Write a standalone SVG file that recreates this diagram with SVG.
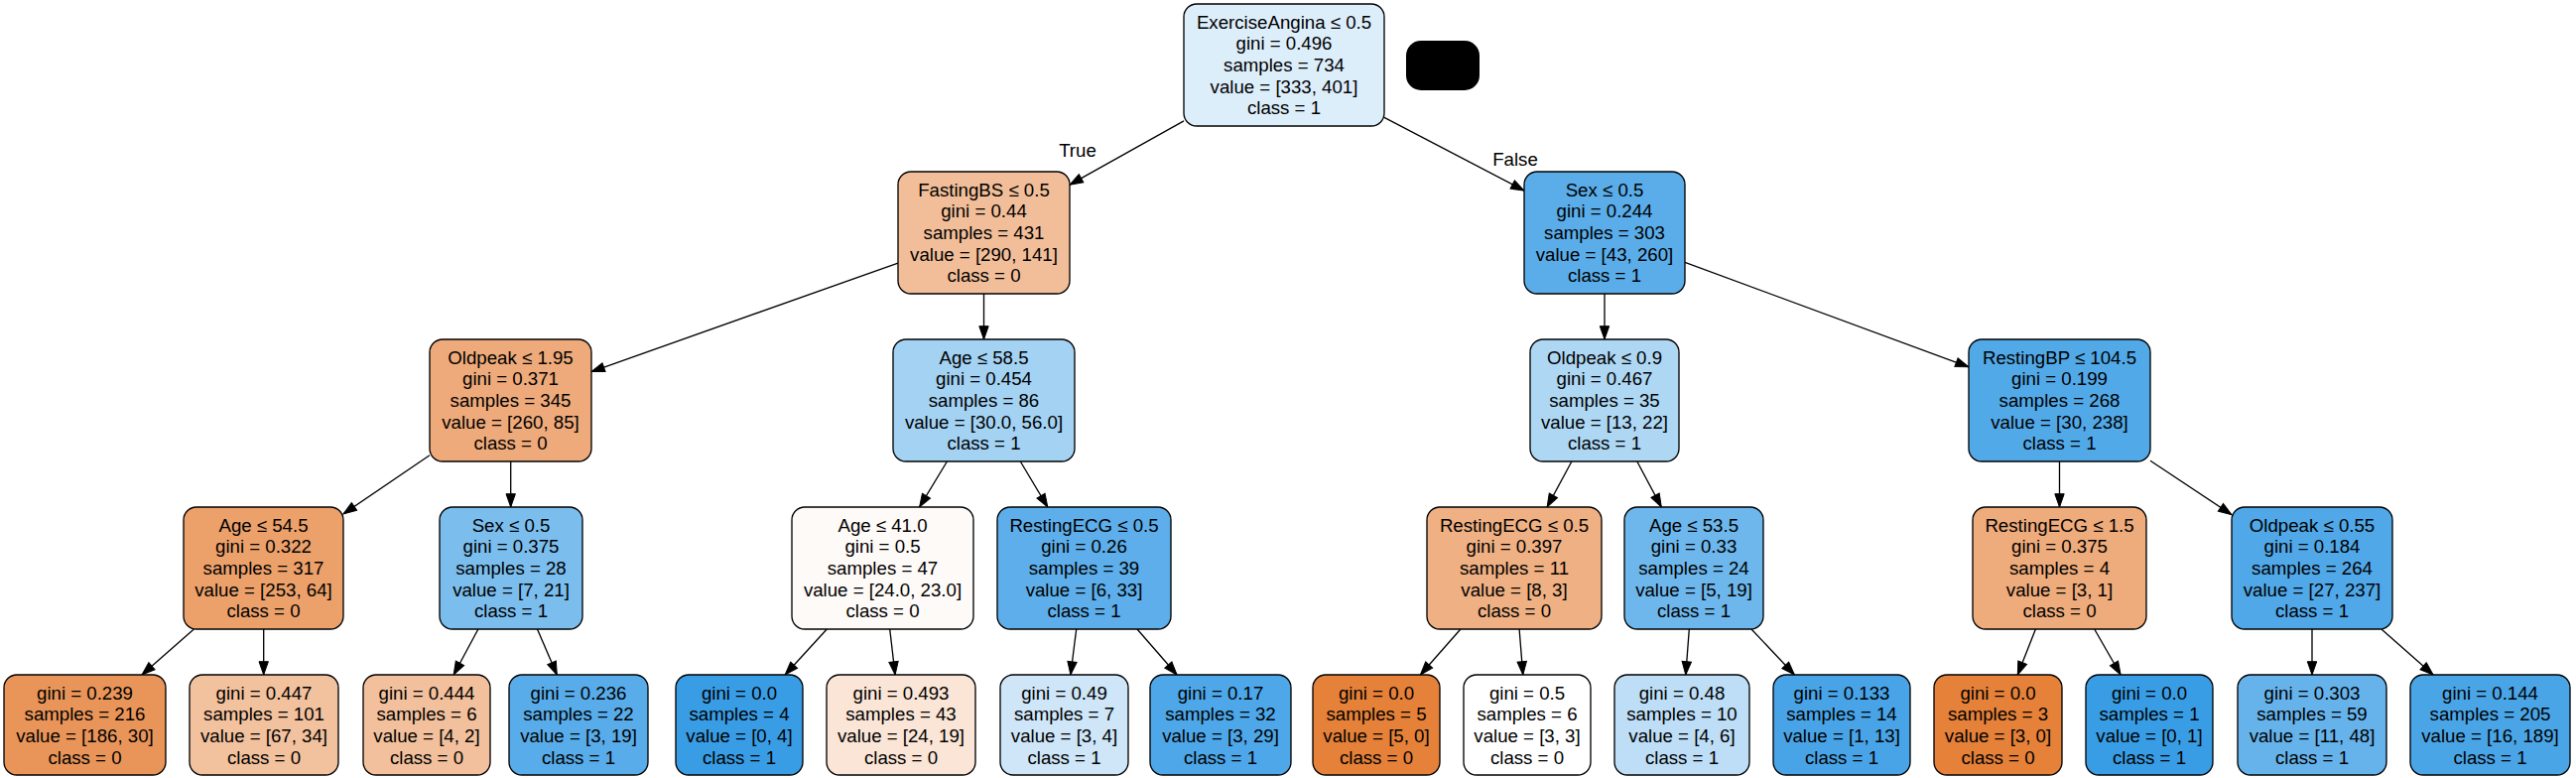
<svg xmlns="http://www.w3.org/2000/svg" width="2596" height="784" viewBox="0 0 2596 784">
<style>
.n{stroke:#000;stroke-width:1.33}
.t{font-family:"Liberation Sans",Arial,sans-serif;font-size:18.67px;fill:#000;text-anchor:middle}
.e{stroke:#000;stroke-width:1.33;fill:none;marker-end:url(#ah)}
</style>
<defs>
<marker id="ah" markerUnits="userSpaceOnUse" markerWidth="16" markerHeight="12" viewBox="0 -6 14 12" refX="13.3" refY="0" orient="auto">
<path d="M0,-4.7 L13.3,0 L0,4.7 z" fill="#000" stroke="#000" stroke-width="1"/>
</marker>
</defs>
<rect width="2596" height="784" fill="#fff"/>
<g id="edges">
<line class="e" x1="1193" y1="121.9" x2="1078" y2="186.2"/>
<line class="e" x1="1395" y1="118.3" x2="1536" y2="192.1"/>
<line class="e" x1="905" y1="265.1" x2="596" y2="374.6"/>
<line class="e" x1="991.5" y1="296" x2="991.5" y2="342"/>
<line class="e" x1="1617" y1="296" x2="1617" y2="342"/>
<line class="e" x1="1698" y1="264.4" x2="1984" y2="369.8"/>
<line class="e" x1="433" y1="458.8" x2="346" y2="517.9"/>
<line class="e" x1="514.7" y1="465" x2="514.7" y2="511"/>
<line class="e" x1="954.4" y1="465" x2="926.6" y2="511"/>
<line class="e" x1="1028.3" y1="465" x2="1055.8" y2="511"/>
<line class="e" x1="1583.9" y1="465" x2="1559.1" y2="511"/>
<line class="e" x1="1649.8" y1="465" x2="1674.3" y2="511"/>
<line class="e" x1="2075.5" y1="465" x2="2075.5" y2="511"/>
<line class="e" x1="2167" y1="464.3" x2="2249" y2="518.7"/>
<line class="e" x1="195.4" y1="634" x2="143" y2="680"/>
<line class="e" x1="265.7" y1="634" x2="265.7" y2="680"/>
<line class="e" x1="481.9" y1="634" x2="457.2" y2="680"/>
<line class="e" x1="541.5" y1="634" x2="561.3" y2="680"/>
<line class="e" x1="833.3" y1="634" x2="791.2" y2="680"/>
<line class="e" x1="896.7" y1="634" x2="902.1" y2="680"/>
<line class="e" x1="1084.7" y1="634" x2="1078.9" y2="680"/>
<line class="e" x1="1146" y1="634" x2="1186.1" y2="680"/>
<line class="e" x1="1471.9" y1="634" x2="1431.4" y2="680"/>
<line class="e" x1="1531.1" y1="634" x2="1534.8" y2="680"/>
<line class="e" x1="1702.3" y1="634" x2="1698.8" y2="680"/>
<line class="e" x1="1765" y1="634" x2="1808.4" y2="680"/>
<line class="e" x1="2051.4" y1="634" x2="2033.3" y2="680"/>
<line class="e" x1="2110.7" y1="634" x2="2137.1" y2="680"/>
<line class="e" x1="2330" y1="634" x2="2330" y2="680"/>
<line class="e" x1="2399.9" y1="634" x2="2452.1" y2="680"/>
<text class="t" x="1086" y="158">True</text>
<text class="t" x="1527" y="166.5">False</text>
</g>
<g id="redaction"><rect x="1417" y="41" width="74" height="50" rx="15" fill="#000"/></g>
<g id="n0"><rect class="n" x="1193" y="4" width="202" height="123" rx="13" fill="#ddeefb"/>
<text class="t" x="1294" y="28.6"><tspan x="1294">ExerciseAngina ≤ 0.5</tspan><tspan x="1294" dy="21.7">gini = 0.496</tspan><tspan x="1294" dy="21.7">samples = 734</tspan><tspan x="1294" dy="21.7">value = [333, 401]</tspan><tspan x="1294" dy="21.7">class = 1</tspan></text></g>
<g id="n1"><rect class="n" x="905" y="173" width="173" height="123" rx="13" fill="#f2be99"/>
<text class="t" y="197.6"><tspan x="991.5">FastingBS ≤ 0.5</tspan><tspan x="991.5" dy="21.7">gini = 0.44</tspan><tspan x="991.5" dy="21.7">samples = 431</tspan><tspan x="991.5" dy="21.7">value = [290, 141]</tspan><tspan x="991.5" dy="21.7">class = 0</tspan></text></g>
<g id="n2"><rect class="n" x="1536" y="173" width="162" height="123" rx="13" fill="#5aade9"/>
<text class="t" y="197.6"><tspan x="1617">Sex ≤ 0.5</tspan><tspan x="1617" dy="21.7">gini = 0.244</tspan><tspan x="1617" dy="21.7">samples = 303</tspan><tspan x="1617" dy="21.7">value = [43, 260]</tspan><tspan x="1617" dy="21.7">class = 1</tspan></text></g>
<g id="n3"><rect class="n" x="433" y="342" width="163" height="123" rx="13" fill="#eeaa7a"/>
<text class="t" y="366.6"><tspan x="514.5">Oldpeak ≤ 1.95</tspan><tspan x="514.5" dy="21.7">gini = 0.371</tspan><tspan x="514.5" dy="21.7">samples = 345</tspan><tspan x="514.5" dy="21.7">value = [260, 85]</tspan><tspan x="514.5" dy="21.7">class = 0</tspan></text></g>
<g id="n4"><rect class="n" x="900" y="342" width="183" height="123" rx="13" fill="#a3d2f3"/>
<text class="t" y="366.6"><tspan x="991.5">Age ≤ 58.5</tspan><tspan x="991.5" dy="21.7">gini = 0.454</tspan><tspan x="991.5" dy="21.7">samples = 86</tspan><tspan x="991.5" dy="21.7">value = [30.0, 56.0]</tspan><tspan x="991.5" dy="21.7">class = 1</tspan></text></g>
<g id="n5"><rect class="n" x="1542" y="342" width="150" height="123" rx="13" fill="#aed7f4"/>
<text class="t" y="366.6"><tspan x="1617">Oldpeak ≤ 0.9</tspan><tspan x="1617" dy="21.7">gini = 0.467</tspan><tspan x="1617" dy="21.7">samples = 35</tspan><tspan x="1617" dy="21.7">value = [13, 22]</tspan><tspan x="1617" dy="21.7">class = 1</tspan></text></g>
<g id="n6"><rect class="n" x="1984" y="342" width="183" height="123" rx="13" fill="#52a9e8"/>
<text class="t" y="366.6"><tspan x="2075.5">RestingBP ≤ 104.5</tspan><tspan x="2075.5" dy="21.7">gini = 0.199</tspan><tspan x="2075.5" dy="21.7">samples = 268</tspan><tspan x="2075.5" dy="21.7">value = [30, 238]</tspan><tspan x="2075.5" dy="21.7">class = 1</tspan></text></g>
<g id="n7"><rect class="n" x="185" y="511" width="161" height="123" rx="13" fill="#eca16b"/>
<text class="t" y="535.6"><tspan x="265.5">Age ≤ 54.5</tspan><tspan x="265.5" dy="21.7">gini = 0.322</tspan><tspan x="265.5" dy="21.7">samples = 317</tspan><tspan x="265.5" dy="21.7">value = [253, 64]</tspan><tspan x="265.5" dy="21.7">class = 0</tspan></text></g>
<g id="n8"><rect class="n" x="443" y="511" width="144" height="123" rx="13" fill="#7bbeee"/>
<text class="t" y="535.6"><tspan x="515">Sex ≤ 0.5</tspan><tspan x="515" dy="21.7">gini = 0.375</tspan><tspan x="515" dy="21.7">samples = 28</tspan><tspan x="515" dy="21.7">value = [7, 21]</tspan><tspan x="515" dy="21.7">class = 1</tspan></text></g>
<g id="n9"><rect class="n" x="798" y="511" width="183" height="123" rx="13" fill="#fefaf7"/>
<text class="t" y="535.6"><tspan x="889.5">Age ≤ 41.0</tspan><tspan x="889.5" dy="21.7">gini = 0.5</tspan><tspan x="889.5" dy="21.7">samples = 47</tspan><tspan x="889.5" dy="21.7">value = [24.0, 23.0]</tspan><tspan x="889.5" dy="21.7">class = 0</tspan></text></g>
<g id="n10"><rect class="n" x="1005" y="511" width="175" height="123" rx="13" fill="#5daeea"/>
<text class="t" y="535.6"><tspan x="1092.5">RestingECG ≤ 0.5</tspan><tspan x="1092.5" dy="21.7">gini = 0.26</tspan><tspan x="1092.5" dy="21.7">samples = 39</tspan><tspan x="1092.5" dy="21.7">value = [6, 33]</tspan><tspan x="1092.5" dy="21.7">class = 1</tspan></text></g>
<g id="n11"><rect class="n" x="1438" y="511" width="176" height="123" rx="13" fill="#efb083"/>
<text class="t" y="535.6"><tspan x="1526">RestingECG ≤ 0.5</tspan><tspan x="1526" dy="21.7">gini = 0.397</tspan><tspan x="1526" dy="21.7">samples = 11</tspan><tspan x="1526" dy="21.7">value = [8, 3]</tspan><tspan x="1526" dy="21.7">class = 0</tspan></text></g>
<g id="n12"><rect class="n" x="1637" y="511" width="140" height="123" rx="13" fill="#6db7ec"/>
<text class="t" y="535.6"><tspan x="1707">Age ≤ 53.5</tspan><tspan x="1707" dy="21.7">gini = 0.33</tspan><tspan x="1707" dy="21.7">samples = 24</tspan><tspan x="1707" dy="21.7">value = [5, 19]</tspan><tspan x="1707" dy="21.7">class = 1</tspan></text></g>
<g id="n13"><rect class="n" x="1988" y="511" width="175" height="123" rx="13" fill="#eeab7b"/>
<text class="t" y="535.6"><tspan x="2075.5">RestingECG ≤ 1.5</tspan><tspan x="2075.5" dy="21.7">gini = 0.375</tspan><tspan x="2075.5" dy="21.7">samples = 4</tspan><tspan x="2075.5" dy="21.7">value = [3, 1]</tspan><tspan x="2075.5" dy="21.7">class = 0</tspan></text></g>
<g id="n14"><rect class="n" x="2249" y="511" width="162" height="123" rx="13" fill="#50a8e8"/>
<text class="t" y="535.6"><tspan x="2330">Oldpeak ≤ 0.55</tspan><tspan x="2330" dy="21.7">gini = 0.184</tspan><tspan x="2330" dy="21.7">samples = 264</tspan><tspan x="2330" dy="21.7">value = [27, 237]</tspan><tspan x="2330" dy="21.7">class = 1</tspan></text></g>
<g id="l1"><rect class="n" x="4" y="680" width="163" height="101" rx="13" fill="#e99559"/>
<text class="t" y="704.5"><tspan x="85.5">gini = 0.239</tspan><tspan x="85.5" dy="21.7">samples = 216</tspan><tspan x="85.5" dy="21.7">value = [186, 30]</tspan><tspan x="85.5" dy="21.7">class = 0</tspan></text></g>
<g id="l2"><rect class="n" x="191" y="680" width="150" height="101" rx="13" fill="#f2c19d"/>
<text class="t" y="704.5"><tspan x="266">gini = 0.447</tspan><tspan x="266" dy="21.7">samples = 101</tspan><tspan x="266" dy="21.7">value = [67, 34]</tspan><tspan x="266" dy="21.7">class = 0</tspan></text></g>
<g id="l3"><rect class="n" x="366" y="680" width="128" height="101" rx="13" fill="#f2c09c"/>
<text class="t" y="704.5"><tspan x="430">gini = 0.444</tspan><tspan x="430" dy="21.7">samples = 6</tspan><tspan x="430" dy="21.7">value = [4, 2]</tspan><tspan x="430" dy="21.7">class = 0</tspan></text></g>
<g id="l4"><rect class="n" x="513" y="680" width="140" height="101" rx="13" fill="#58ace9"/>
<text class="t" y="704.5"><tspan x="583">gini = 0.236</tspan><tspan x="583" dy="21.7">samples = 22</tspan><tspan x="583" dy="21.7">value = [3, 19]</tspan><tspan x="583" dy="21.7">class = 1</tspan></text></g>
<g id="l5"><rect class="n" x="681" y="680" width="128" height="101" rx="13" fill="#399de5"/>
<text class="t" y="704.5"><tspan x="745">gini = 0.0</tspan><tspan x="745" dy="21.7">samples = 4</tspan><tspan x="745" dy="21.7">value = [0, 4]</tspan><tspan x="745" dy="21.7">class = 1</tspan></text></g>
<g id="l6"><rect class="n" x="833" y="680" width="150" height="101" rx="13" fill="#fae5d6"/>
<text class="t" y="704.5"><tspan x="908">gini = 0.493</tspan><tspan x="908" dy="21.7">samples = 43</tspan><tspan x="908" dy="21.7">value = [24, 19]</tspan><tspan x="908" dy="21.7">class = 0</tspan></text></g>
<g id="l7"><rect class="n" x="1008" y="680" width="129" height="101" rx="13" fill="#cee6f8"/>
<text class="t" y="704.5"><tspan x="1072.5">gini = 0.49</tspan><tspan x="1072.5" dy="21.7">samples = 7</tspan><tspan x="1072.5" dy="21.7">value = [3, 4]</tspan><tspan x="1072.5" dy="21.7">class = 1</tspan></text></g>
<g id="l8"><rect class="n" x="1159" y="680" width="142" height="101" rx="13" fill="#4da7e8"/>
<text class="t" y="704.5"><tspan x="1230">gini = 0.17</tspan><tspan x="1230" dy="21.7">samples = 32</tspan><tspan x="1230" dy="21.7">value = [3, 29]</tspan><tspan x="1230" dy="21.7">class = 1</tspan></text></g>
<g id="l9"><rect class="n" x="1323" y="680" width="128" height="101" rx="13" fill="#e58139"/>
<text class="t" y="704.5"><tspan x="1387">gini = 0.0</tspan><tspan x="1387" dy="21.7">samples = 5</tspan><tspan x="1387" dy="21.7">value = [5, 0]</tspan><tspan x="1387" dy="21.7">class = 0</tspan></text></g>
<g id="l10"><rect class="n" x="1475" y="680" width="128" height="101" rx="13" fill="#ffffff"/>
<text class="t" y="704.5"><tspan x="1539">gini = 0.5</tspan><tspan x="1539" dy="21.7">samples = 6</tspan><tspan x="1539" dy="21.7">value = [3, 3]</tspan><tspan x="1539" dy="21.7">class = 0</tspan></text></g>
<g id="l11"><rect class="n" x="1627" y="680" width="136" height="101" rx="13" fill="#bddef6"/>
<text class="t" y="704.5"><tspan x="1695">gini = 0.48</tspan><tspan x="1695" dy="21.7">samples = 10</tspan><tspan x="1695" dy="21.7">value = [4, 6]</tspan><tspan x="1695" dy="21.7">class = 1</tspan></text></g>
<g id="l12"><rect class="n" x="1787" y="680" width="138" height="101" rx="13" fill="#48a4e7"/>
<text class="t" y="704.5"><tspan x="1856">gini = 0.133</tspan><tspan x="1856" dy="21.7">samples = 14</tspan><tspan x="1856" dy="21.7">value = [1, 13]</tspan><tspan x="1856" dy="21.7">class = 1</tspan></text></g>
<g id="l13"><rect class="n" x="1949" y="680" width="129" height="101" rx="13" fill="#e58139"/>
<text class="t" y="704.5"><tspan x="2013.5">gini = 0.0</tspan><tspan x="2013.5" dy="21.7">samples = 3</tspan><tspan x="2013.5" dy="21.7">value = [3, 0]</tspan><tspan x="2013.5" dy="21.7">class = 0</tspan></text></g>
<g id="l14"><rect class="n" x="2102" y="680" width="128" height="101" rx="13" fill="#399de5"/>
<text class="t" y="704.5"><tspan x="2166">gini = 0.0</tspan><tspan x="2166" dy="21.7">samples = 1</tspan><tspan x="2166" dy="21.7">value = [0, 1]</tspan><tspan x="2166" dy="21.7">class = 1</tspan></text></g>
<g id="l15"><rect class="n" x="2255" y="680" width="150" height="101" rx="13" fill="#66b3eb"/>
<text class="t" y="704.5"><tspan x="2330">gini = 0.303</tspan><tspan x="2330" dy="21.7">samples = 59</tspan><tspan x="2330" dy="21.7">value = [11, 48]</tspan><tspan x="2330" dy="21.7">class = 1</tspan></text></g>
<g id="l16"><rect class="n" x="2429" y="680" width="161" height="101" rx="13" fill="#4aa5e7"/>
<text class="t" y="704.5"><tspan x="2509.5">gini = 0.144</tspan><tspan x="2509.5" dy="21.7">samples = 205</tspan><tspan x="2509.5" dy="21.7">value = [16, 189]</tspan><tspan x="2509.5" dy="21.7">class = 1</tspan></text></g>
</svg>
